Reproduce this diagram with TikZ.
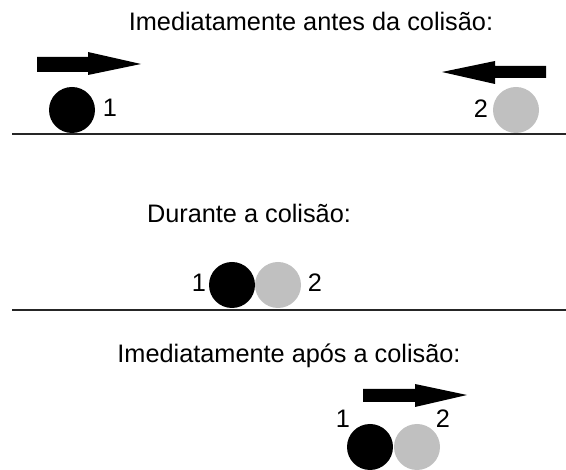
\documentclass[tikz,border=0pt]{standalone}
\usepackage{fontspec}
\setmainfont{Liberation Sans}
\definecolor{ballgray}{HTML}{C0C0C0}
\tikzset{
  txt/.style={anchor=base, inner sep=0pt, font=\fontsize{25.3}{29}\selectfont},
  ballA/.style={circle, fill=black, minimum size=46pt, inner sep=0pt},
  ballB/.style={circle, fill=ballgray, minimum size=46pt, inner sep=0pt},
  ground/.style={line width=1.6pt, black!85},
  arrowfill/.style={fill=black}
}
\begin{document}
\begin{tikzpicture}[x=1pt,y=-1pt]
\useasboundingbox (0,0) rectangle (566,470);
% Section 1
\node[txt] (t1) at (311,31) {Imediatamente antes da colisão:};
\fill[arrowfill] (37,57) -- (88,57) -- (88,52) -- (141,64) -- (88,75) -- (88,72) -- (37,72) -- cycle;
\fill[arrowfill] (546,66) -- (495,66) -- (495,61) -- (442,72) -- (495,84) -- (495,78) -- (546,78) -- cycle;
\node[ballA] (b1a) at (72,110) {};
\node[ballB] (b2a) at (516,110) {};
\node[txt] (l1a) at (110,117) {1};
\node[txt] (l2a) at (481,118) {2};
\coordinate (g1l) at (12,134);
\coordinate (g1r) at (566,134);
\draw[ground] (g1l) -- (g1r);
% Section 2
\node[txt] (t2) at (249,223) {Durante a colisão:};
\node[ballB] (b2b) at (278,285) {};
\node[ballA] (b1b) at (232,285) {};
\node[txt] (l1b) at (199,292) {1};
\node[txt] (l2b) at (315,292) {2};
\coordinate (g2l) at (12,310);
\coordinate (g2r) at (566,310);
\draw[ground] (g2l) -- (g2r);
% Section 3
\node[txt] (t3) at (289,363) {Imediatamente após a colisão:};
\fill[arrowfill] (363,389) -- (415,389) -- (415,384) -- (467,395) -- (415,407) -- (415,402) -- (363,402) -- cycle;
\node[ballB] (b2c) at (417,447) {};
\node[ballA] (b1c) at (370,447) {};
\node[txt] (l1c) at (343,428) {1};
\node[txt] (l2c) at (443,428) {2};
\end{tikzpicture}
\end{document}
